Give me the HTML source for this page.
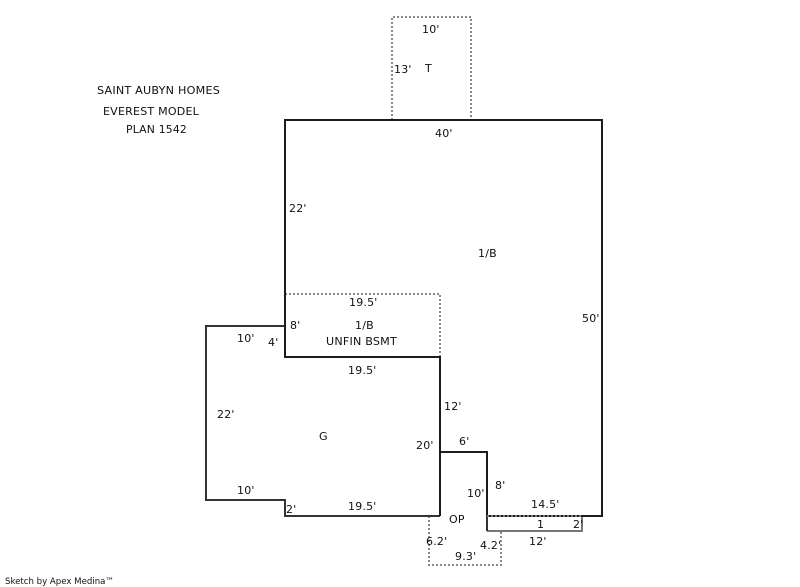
<!DOCTYPE html>
<html>
<head>
<meta charset="utf-8">
<style>
html,body{margin:0;padding:0;background:#fff;width:800px;height:587px;overflow:hidden}
svg{display:block}
text{font-family:"DejaVu Sans","Liberation Sans",sans-serif;font-size:11px;letter-spacing:.2px;fill:#111}
</style>
</head>
<body>
<svg width="800" height="587" viewBox="0 0 800 587" xmlns="http://www.w3.org/2000/svg">
<g fill="none" shape-rendering="crispEdges">
<path d="M392 120V17H471V120" stroke="#888" stroke-width="2" stroke-dasharray="2 2"/>
<path d="M285 294H440V357" stroke="#888" stroke-width="2" stroke-dasharray="2 2"/>
<path d="M429 516V565H501V531" stroke="#888" stroke-width="2" stroke-dasharray="2 2"/>
<path d="M487 531H582V516" stroke="#777" stroke-width="2"/>
<path d="M285 326H206V500H285V516H440" stroke="#333" stroke-width="2"/>
<path d="M285 120H602V516H487V452H440V357H285V120Z" stroke="#1c1c1c" stroke-width="2"/>
<path d="M440 452V516" stroke="#1c1c1c" stroke-width="2"/>
<path d="M487 516V531" stroke="#333" stroke-width="2"/>
<path d="M487 516H582" stroke="#777" stroke-width="2" stroke-dasharray="2 2"/>
</g>
<text x="97" y="94" textLength="123" lengthAdjust="spacingAndGlyphs">SAINT AUBYN HOMES</text>
<text x="103" y="115" textLength="96" lengthAdjust="spacingAndGlyphs">EVEREST MODEL</text>
<text x="126" y="133" textLength="61" lengthAdjust="spacingAndGlyphs">PLAN 1542</text>
<text x="422" y="33">10'</text>
<text x="394" y="73">13'</text>
<text x="425" y="72">T</text>
<text x="435" y="137">40'</text>
<text x="289" y="212">22'</text>
<text x="478" y="257">1/B</text>
<text x="582" y="322">50'</text>
<text x="349" y="306">19.5'</text>
<text x="290" y="329">8'</text>
<text x="355" y="329">1/B</text>
<text x="326" y="345" textLength="71" lengthAdjust="spacingAndGlyphs">UNFIN BSMT</text>
<text x="237" y="342">10'</text>
<text x="268" y="346">4'</text>
<text x="348" y="374">19.5'</text>
<text x="444" y="410">12'</text>
<text x="217" y="418">22'</text>
<text x="319" y="440">G</text>
<text x="416" y="449">20'</text>
<text x="459" y="445">6'</text>
<text x="237" y="494">10'</text>
<text x="495" y="489">8'</text>
<text x="467" y="497">10'</text>
<text x="531" y="508">14.5'</text>
<text x="286" y="513">2'</text>
<text x="348" y="510">19.5'</text>
<text x="449" y="523">OP</text>
<text x="537" y="528">1</text>
<text x="573" y="528">2'</text>
<text x="426" y="545">6.2'</text>
<text x="480" y="549">4.2'</text>
<text x="529" y="545">12'</text>
<text x="455" y="560">9.3'</text>
<text x="5" y="584" textLength="109" lengthAdjust="spacingAndGlyphs" style="font-size:9px;letter-spacing:0">Sketch by Apex Medina™</text>
</svg>
</body>
</html>
